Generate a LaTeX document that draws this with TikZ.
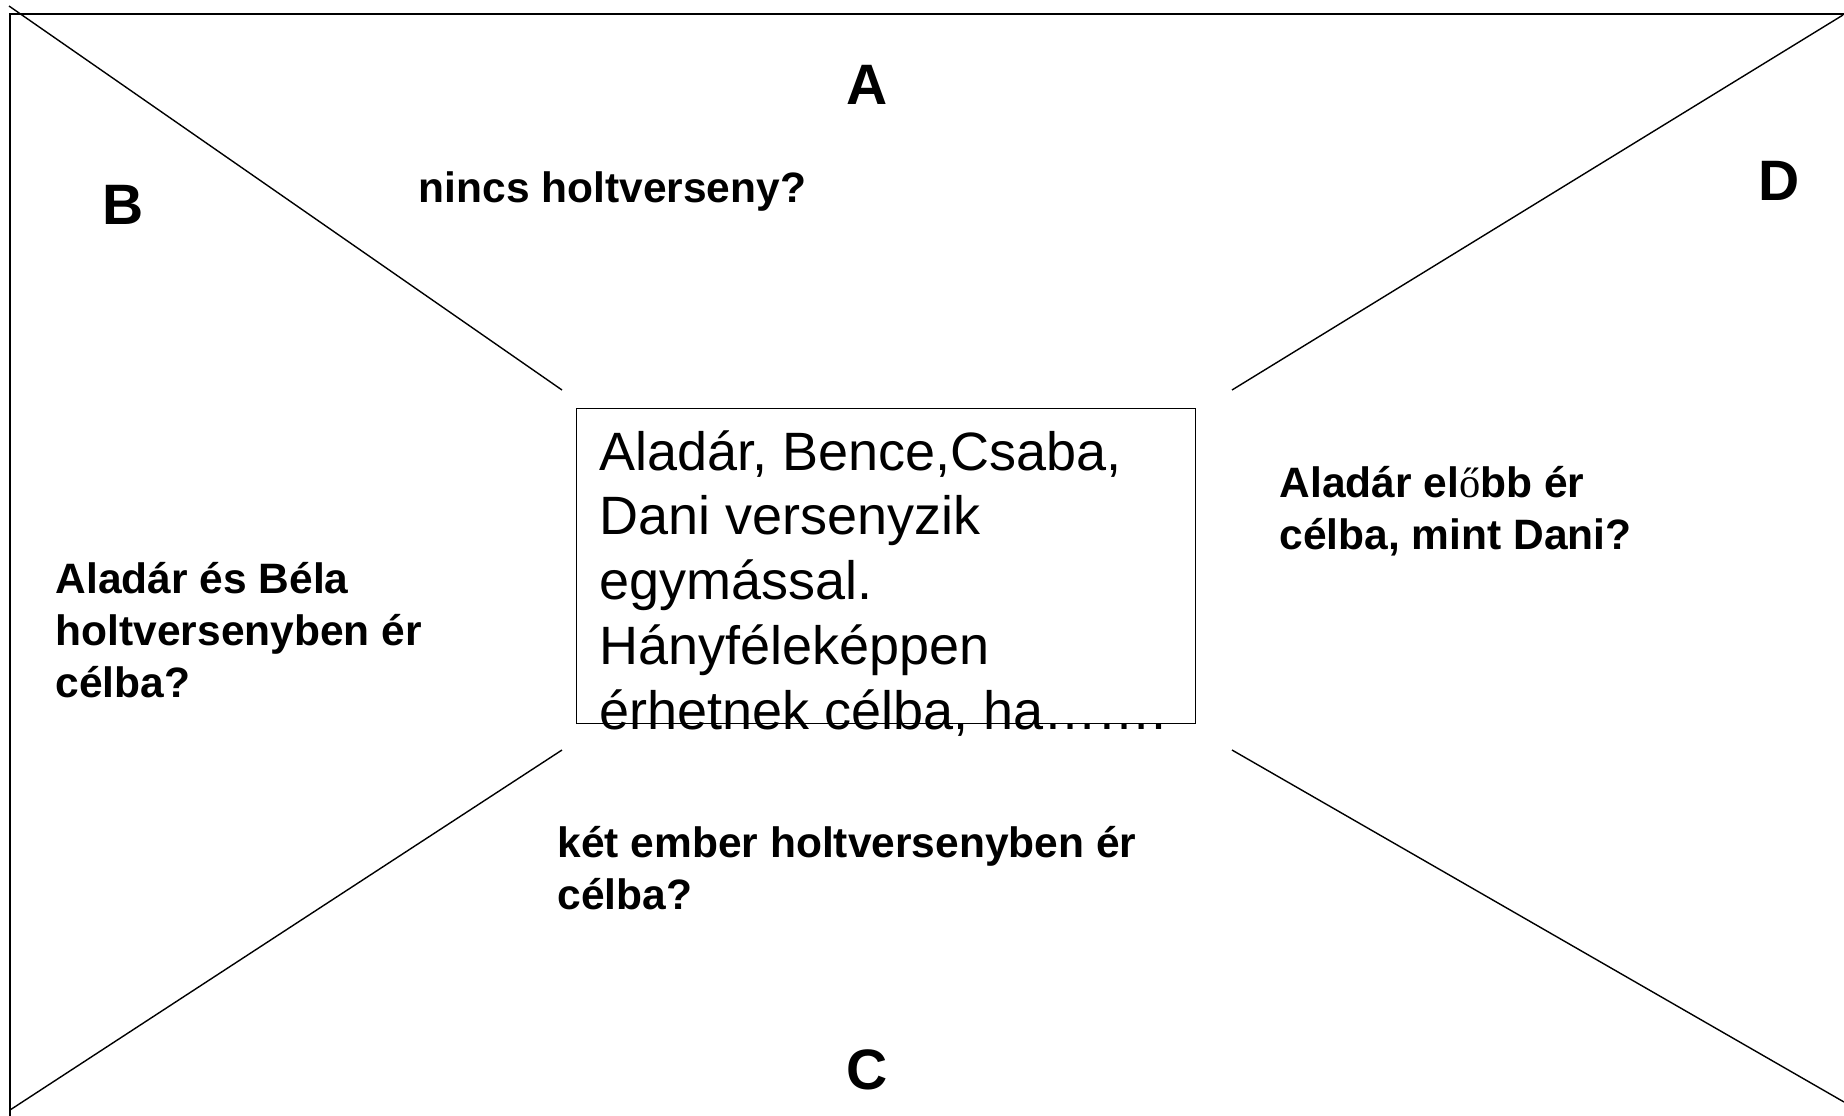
\documentclass[tikz,border=0pt]{standalone}
\usepackage{fontspec}
\setmainfont{Liberation Sans}
\newfontfamily\oserif{Liberation Serif}
\usetikzlibrary{positioning}

\begin{document}
\begin{tikzpicture}[
    x=0.5pt, y=-0.5pt, line width=0.7pt,
    letter/.style={font=\fontsize{28.5}{34}\selectfont\bfseries, inner sep=0pt},
    question/.style={font=\fontsize{21.25}{25.85}\selectfont\bfseries, align=left, anchor=base west, inner sep=0pt},
    taskbox/.style={rectangle, draw, anchor=north west, minimum width=309.5pt, minimum height=157.5pt, inner sep=0pt},
    tasktext/.style={font=\fontsize{27}{32.35}\selectfont, align=left, anchor=base west, inner sep=0pt}
]
\useasboundingbox (0,0) rectangle (1844,1115);
\clip (0,0) rectangle (1844,1115);
\draw (10,14) rectangle (1870,1140);

\coordinate (tl) at (9,6);
\coordinate (tr) at (1843,15);
\coordinate (bl) at (10,1110);
\coordinate (br) at (1844,1102);
\coordinate (itl) at (562,390);
\coordinate (itr) at (1232,390);
\coordinate (ibl) at (562,750);
\coordinate (ibr) at (1232,750);

\draw (tl) -- (itl);
\draw (tr) -- (itr);
\draw (bl) -- (ibl);
\draw (br) -- (ibr);

\node[taskbox] (box) at (576,408) {};
\node[tasktext] (task) at (599,729) {Aladár, Bence,Csaba,\\Dani versenyzik\\egymással.\\Hányféleképpen\\érhetnek célba, ha…….};

\node[letter] (A) at (867,85) {A};
\node[letter] (B) at (123,205) {B};
\node[letter] (C) at (867,1070) {C};
\node[letter] (D) at (1779,181) {D};

\node[question] (qA) at (418,202) {nincs holtverseny?};
\node[question] (qB) at (55,697) {Aladár és Béla\\holtversenyben ér\\célba?};
\node[question] (qC) at (557,909) {két ember holtversenyben ér\\célba?};
\node[question] (qD) at (1279,549) {Aladár el{\oserif\mdseries ő}bb ér\\célba, mint Dani?};

\end{tikzpicture}
\end{document}
